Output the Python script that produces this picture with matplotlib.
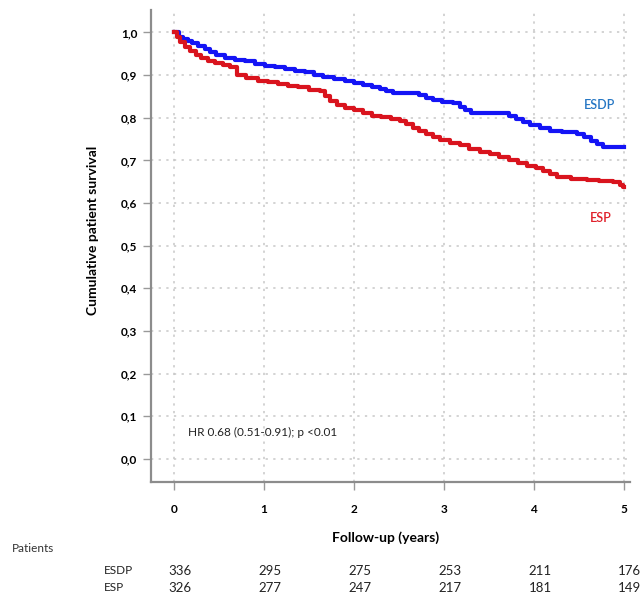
import matplotlib
matplotlib.use("Agg")
import matplotlib.pyplot as plt
import matplotlib.transforms as mtransforms

plt.rcParams["font.family"] = ["Lato", "DejaVu Sans"]

# Kaplan-Meier step points (years, cumulative survival)
esdp_time = [0, 0.05, 0.1, 0.15, 0.2, 0.27, 0.34, 0.4, 0.47, 0.57, 0.68,
             0.79, 0.9, 1.01, 1.12, 1.23, 1.35, 1.46, 1.56, 1.66, 1.78, 1.9,
             2.0, 2.1, 2.2, 2.29, 2.36, 2.43, 2.73, 2.8, 2.88, 2.98, 3.1,
             3.18, 3.24, 3.3, 3.73, 3.8, 3.88, 3.96, 4.07, 4.18, 4.32, 4.48,
             4.56, 4.64, 4.7, 4.77, 5.0]
esdp_surv = [1.0, 0.99, 0.985, 0.98, 0.975, 0.968, 0.962, 0.955, 0.948,
             0.941, 0.936, 0.932, 0.927, 0.922, 0.919, 0.915, 0.91, 0.906,
             0.9, 0.895, 0.89, 0.886, 0.882, 0.877, 0.872, 0.867, 0.862,
             0.858, 0.853, 0.847, 0.842, 0.838, 0.834, 0.826, 0.818, 0.81,
             0.804, 0.796, 0.789, 0.782, 0.776, 0.77, 0.766, 0.762, 0.754,
             0.746, 0.738, 0.731, 0.731]

esp_time = [0, 0.03, 0.07, 0.12, 0.18, 0.24, 0.3, 0.38, 0.46, 0.55, 0.62,
            0.7, 0.8, 0.93, 1.05, 1.16, 1.27, 1.38, 1.5, 1.62, 1.68, 1.74,
            1.81, 1.9, 2.0, 2.1, 2.2, 2.3, 2.41, 2.51, 2.58, 2.66, 2.73, 2.8,
            2.88, 2.96, 3.07, 3.18, 3.28, 3.4, 3.51, 3.62, 3.73, 3.83, 3.93,
            4.03, 4.1, 4.18, 4.26, 4.42, 4.59, 4.73, 4.88, 4.96, 4.99, 5.0]
esp_surv = [1.0, 0.99, 0.978, 0.966, 0.956, 0.948, 0.941, 0.934, 0.929,
            0.924, 0.919, 0.9, 0.893, 0.887, 0.883, 0.879, 0.875, 0.871,
            0.866, 0.862, 0.85, 0.84, 0.83, 0.822, 0.817, 0.811, 0.805,
            0.801, 0.797, 0.793, 0.785, 0.777, 0.77, 0.762, 0.754, 0.747,
            0.741, 0.735, 0.727, 0.72, 0.716, 0.708, 0.7, 0.693, 0.687,
            0.681, 0.674, 0.667, 0.66, 0.657, 0.655, 0.652, 0.649, 0.643,
            0.637, 0.637]

years = [0, 1, 2, 3, 4, 5]
yticks = [0.0, 0.1, 0.2, 0.3, 0.4, 0.5, 0.6, 0.7, 0.8, 0.9, 1.0]
at_risk_esdp = [336, 295, 275, 253, 211, 176]
at_risk_esp = [326, 277, 247, 217, 181, 149]

blue = "#1414f5"
red = "#d9141e"

fig = plt.figure(figsize=(6.41, 6.01), dpi=100)
ax = fig.add_axes([0.2356, 0.198, 0.747, 0.785])

ax.plot(esdp_time, esdp_surv, drawstyle="steps-post", color=blue, lw=3.0,
        solid_joinstyle="round")
ax.plot(esp_time, esp_surv, drawstyle="steps-post", color=red, lw=3.0,
        solid_joinstyle="round")

ax.set_xlim(-0.256, 5.07)
ax.set_ylim(-0.054, 1.052)
ax.set_xticks(years)
ax.set_yticks(yticks)
ax.set_yticklabels([f"{v:.1f}".replace(".", ",") for v in yticks])
ax.tick_params(axis="both", labelsize=8.5, colors="#999999", length=6,
               width=1.0, labelcolor="black", pad=4)
for lab in ax.get_xticklabels() + ax.get_yticklabels():
    lab.set_fontweight("bold")
ax.tick_params(axis="x", pad=10)

ax.grid(True, color="#c8c8c8", linestyle=(0, (1.5, 3.5)), linewidth=1.1)
for side in ("top", "right"):
    ax.spines[side].set_visible(False)
for side in ("left", "bottom"):
    ax.spines[side].set_color("#8c8c8c")
    ax.spines[side].set_linewidth(1.6)

ax.text(4.73, 0.829, "ESDP", color="#2677c4", fontsize=9, ha="center",
        va="center", fontweight="semibold")
ax.text(4.75, 0.564, "ESP", color="#e0202a", fontsize=9, ha="center",
        va="center", fontweight="semibold")
ax.text(0.16, 0.063, "HR 0.68 (0.51-0.91); p <0.01", fontsize=8.5,
        ha="left", va="center", color="#222222")

fig.text(0.145, 0.617, "Cumulative patient survival", rotation=90,
         fontsize=10, fontweight="bold", ha="center", va="center")
fig.text(0.601, 0.106, "Follow-up (years)", fontsize=10, fontweight="bold",
         ha="center", va="center")

# Number at risk table below the axis
trans = mtransforms.blended_transform_factory(ax.transData, fig.transFigure)
fig.text(0.018, 0.088, "Patients", fontsize=8.5, ha="left", va="center",
         color="#333333")
fig.text(0.162, 0.050, "ESDP", fontsize=8.5, ha="left", va="center",
         color="#222222")
fig.text(0.162, 0.022, "ESP", fontsize=8.5, ha="left", va="center",
         color="#222222")
for yr, n1, n2 in zip(years, at_risk_esdp, at_risk_esp):
    ax.text(yr + 0.07, 0.050, str(n1), transform=trans, fontsize=9.5,
            ha="center", va="center", color="#222222", clip_on=False)
    ax.text(yr + 0.07, 0.022, str(n2), transform=trans, fontsize=9.5,
            ha="center", va="center", color="#222222", clip_on=False)

fig.savefig("out.png", dpi=100)
